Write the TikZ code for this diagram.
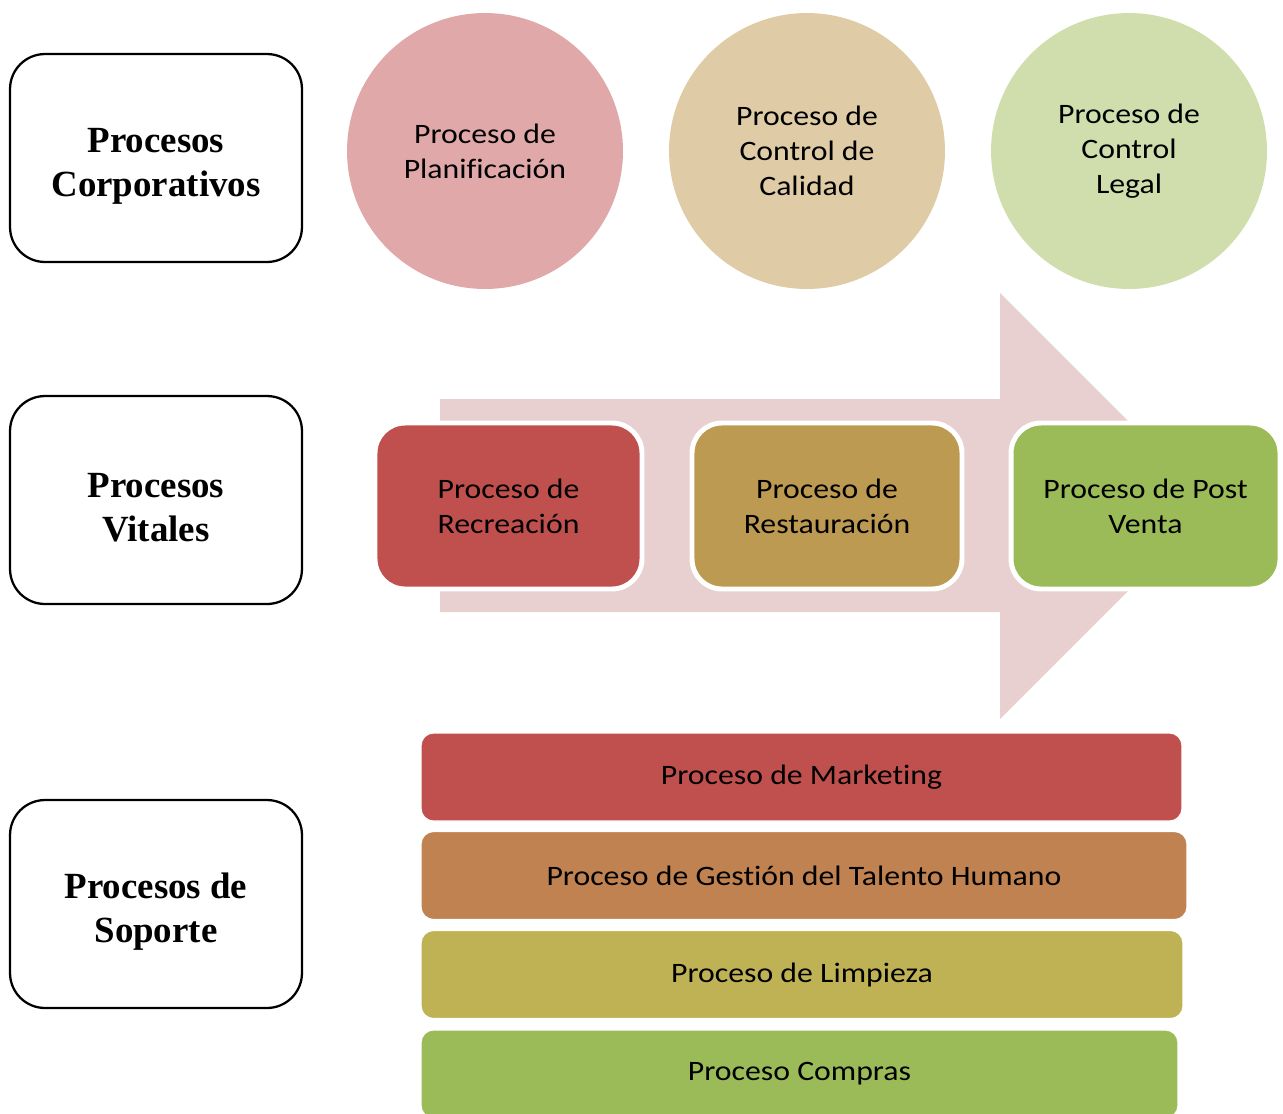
\documentclass[tikz,border=0pt]{standalone}
\usepackage{fontspec}
\setmainfont{Carlito}[FakeStretch=1.13, Ligatures=NoCommon]
\newfontfamily\titlefont{Liberation Serif}

\definecolor{pinkcirc}{HTML}{E0A8A8}
\definecolor{tancirc}{HTML}{DFCCA6}
\definecolor{greencirc}{HTML}{CFDEAC}
\definecolor{arrowpink}{HTML}{E8D0D1}
\definecolor{procred}{HTML}{C0504D}
\definecolor{procgold}{HTML}{BD9A52}
\definecolor{procgreen}{HTML}{9BBB59}
\definecolor{procorange}{HTML}{C08250}
\definecolor{procolive}{HTML}{BFB255}

\tikzset{
  levelbox/.style={draw, line width=1.3pt, rounded corners=0.7cm,
    minimum width=5.84cm, minimum height=4.16cm},
  leveltext/.style={align=center,
    font=\titlefont\bfseries\fontsize{21}{25}\selectfont},
  circproc/.style={circle, minimum size=5.52cm, align=center,
    font=\fontsize{16}{19.9}\selectfont},
  vitalbox/.style={draw=white, line width=2.8pt, rounded corners=0.6cm,
    minimum height=3.32cm, align=center,
    font=\fontsize{16}{19.9}\selectfont},
  barproc/.style={draw=white, line width=0.6pt, rounded corners=0.25cm,
    minimum height=1.76cm, align=center,
    font=\fontsize{16}{19.9}\selectfont}
}

\begin{document}
\begin{tikzpicture}[x=0.02cm, y=-0.02cm]
  \useasboundingbox (0,0) rectangle (1283,1113);

  % niveles
  \node[levelbox] (corp) at (156,158) {};
  \node[levelbox] (vital) at (156,500) {};
  \node[levelbox] (sop) at (156,904) {};
  \node[leveltext] (corptxt) at ([yshift=-0.16cm]corp.center) {Procesos\\Corporativos};
  \node[leveltext] (vitaltxt) at ([yshift=-0.16cm]vital.center) {Procesos\\Vitales};
  \node[leveltext] (soptxt) at ([yshift=-0.16cm]sop.center) {Procesos de\\Soporte};

  % procesos corporativos
  \node[circproc, fill=pinkcirc] (plan) at (485,151) {Proceso de\\Planificación};
  \node[circproc, fill=tancirc] (cal) at (807,151) {Proceso de\\Control de\\Calidad};
  \node[circproc, fill=greencirc] (legal) at (1129,151) {Proceso de\\Control\\Legal};

  % flecha de fondo
  \fill[arrowpink] (440,399) -- (1000,399) -- (1000,293) -- (1213,506)
    -- (1000,719) -- (1000,612) -- (440,612) -- cycle;

  % procesos vitales
  \node[vitalbox, fill=procred, minimum width=5.34cm] (recr) at (508.5,506) {Proceso de\\Recreación};
  \node[vitalbox, fill=procgold, minimum width=5.4cm] (rest) at (827,506) {Proceso de\\Restauración};
  \node[vitalbox, fill=procgreen, minimum width=5.38cm] (post) at (1145.5,506) {Proceso de Post\\Venta};

  % procesos de soporte
  \node[barproc, fill=procred, minimum width=15.22cm] (mkt) at (801.5,777) {Proceso de Marketing};
  \node[barproc, fill=procorange, minimum width=15.32cm] (tal) at (804,875.5) {Proceso de Gestión del Talento Humano};
  \node[barproc, fill=procolive, minimum width=15.24cm] (limp) at (802,974.5) {Proceso de Limpieza};
  \node[barproc, fill=procgreen, minimum width=15.14cm] (comp) at (799.5,1074) {Proceso Compras};
\end{tikzpicture}
\end{document}
